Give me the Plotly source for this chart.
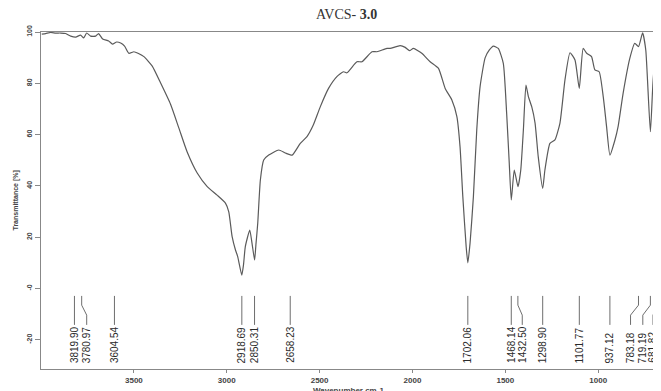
import plotly.graph_objects as go

# Spectrum (wavenumber cm-1, transmittance %)
wavenumber = [3996,3975,3948,3921,3894,3867,3840,3813,3787,3770,3754,3733,3706,3690,3668,3636,3615,3593,3571,3550,
              3527,3500,3475,3446,3401,3356,3303,3258,3213,3159,3105,3052,3007,2989,2971,2953,2941,2919,2910,2900,
              2876,2864,2850,2843,2833,2819,2801,2774,2720,2684,2648,2604,2568,2534,2496,2452,2407,2371,2353,2299,
              2272,2218,2191,2138,2120,2066,2039,2016,1995,1950,1905,1860,1824,1788,1761,1744,1729,1711,1702,1690,
              1672,1654,1636,1609,1586,1564,1538,1511,1493,1479,1468,1452,1432,1417,1403,1389,1376,1358,1340,1323,
              1299,1287,1260,1233,1206,1179,1152,1125,1102,1081,1062,1036,1018,995,973,955,937,910,893,866,
              830,803,783,761,744,719,701,682,662]
transmittance = [99.2,99.4,99.8,99.6,99.6,99.4,98.4,98.0,98.8,97.7,99.6,98.4,98.4,99.4,97.3,96.5,95.3,96.1,95.7,94.5,
                 91.7,92.3,91.6,90.4,86.7,80.1,71.9,62.6,53.2,45.0,39.7,36.4,33.3,29.9,20.2,15.0,12.4,5.2,9.1,16.3,
                 22.8,17.7,11.1,17.0,25.5,42.3,50.1,52.0,54.0,52.8,52.0,56.6,59.2,63.7,70.9,78.0,82.6,84.5,84.1,88.4,
                 88.4,92.3,92.3,93.6,93.6,94.7,94.0,92.7,93.6,91.7,88.4,85.8,78.0,73.5,67.0,55.3,35.8,16.3,10.0,17.7,
                 35.8,61.8,78.7,89.9,93.0,94.5,93.6,87.8,68.3,48.9,34.5,46.2,39.7,46.2,61.8,79.3,74.8,70.9,64.5,51.4,
                 39.0,46.2,56.6,57.9,64.5,81.3,91.9,89.1,78.0,93.6,91.7,90.4,85.2,84.5,74.8,63.1,52.0,57.9,63.1,76.1,
                 89.7,95.6,94.3,99.7,93.0,61.1,85.2,70.9,78.0]

# Peak picks and where their labels sit
peaks = [3819.90, 3780.97, 3604.54, 2918.69, 2850.31, 2658.23, 1702.06, 1468.14, 1432.50,
         1298.90, 1101.77, 937.12, 783.18, 719.19, 681.82]
label_pos = [3819.90, 3754, 3604.54, 2918.69, 2850.31, 2658.23, 1702.06, 1468.14, 1409,
             1298.90, 1101.77, 937.12, 826, 760, 705]

y_ticks = [100, 80, 60, 40, 20, 0, -20]
y_tick_text = ["100", "80", "60", "40", "20", "-0", "-20"]
x_ticks = [3500, 3000, 2500, 2000, 1500, 1000]

fig = go.Figure()
fig.add_trace(go.Scatter(x=wavenumber, y=transmittance, mode="lines",
                         line=dict(color="#5a5a5a", width=1.2, shape="spline", smoothing=0.5),
                         hoverinfo="skip", showlegend=False))

# peak marker lines (with kinks where labels are shifted)
lx, ly = [], []
for p, l in zip(peaks, label_pos):
    lx += [p, p, l, l, None]
    ly += [-2.9, -6.5, -10.4, -14.2, None]
fig.add_trace(go.Scatter(x=lx, y=ly, mode="lines", line=dict(color="#6e6e6e", width=1),
                         hoverinfo="skip", showlegend=False))

for p, l in zip(peaks, label_pos):
    fig.add_annotation(x=l, y=-29.5, xref="x", yref="y", text=f"{p:.2f}", textangle=-90,
                       showarrow=False, xanchor="center", yanchor="bottom", borderpad=0,
                       font=dict(family="Liberation Sans, Arial", size=10, color="#2a2a2a"))

fig.add_annotation(x=0.492, y=1, xref="paper", yref="paper", yshift=18, text="AVCS- <b>3.0</b>",
                   showarrow=False, xanchor="center", yanchor="middle",
                   font=dict(family="Liberation Serif, Times New Roman", size=14, color="#333333"))
fig.add_annotation(x=0.496, y=0, xref="paper", yref="paper", yshift=-15, text="<b>Wavenumber cm-1</b>",
                   showarrow=False, xanchor="center", yanchor="top",
                   font=dict(family="Liberation Sans, Arial", size=8, color="#444444"))
fig.add_annotation(x=0, y=0.5, xref="paper", yref="paper", xshift=-26, text="<b>Transmittance [%]</b>",
                   textangle=-90, showarrow=False, xanchor="center", yanchor="middle",
                   font=dict(family="Liberation Sans, Arial", size=7, color="#444444"))

fig.update_xaxes(range=[4000, 662], tickvals=x_ticks, ticks="outside", ticklen=3, tickcolor="#888888",
                 showline=True, linecolor="#888888", linewidth=1, mirror=True, showgrid=False, zeroline=False,
                 tickfont=dict(family="Liberation Sans, Arial", size=8, color="#444444", weight="bold"))
fig.update_yaxes(range=[-31.4, 100], tickvals=y_ticks, ticktext=y_tick_text, ticks="outside", ticklen=5,
                 tickcolor="#888888", tickangle=-90, showline=True, linecolor="#888888", linewidth=1,
                 showgrid=False, zeroline=False,
                 tickfont=dict(family="Liberation Sans, Arial", size=7, color="#444444", weight="bold"))

# page body has an 8px margin, so the figure is sized/offset to land on the same pixels
fig.update_layout(width=653, height=383, margin=dict(l=33, r=0, t=24, b=22),
                  plot_bgcolor="white", paper_bgcolor="white")
fig.write_html("out.html")
